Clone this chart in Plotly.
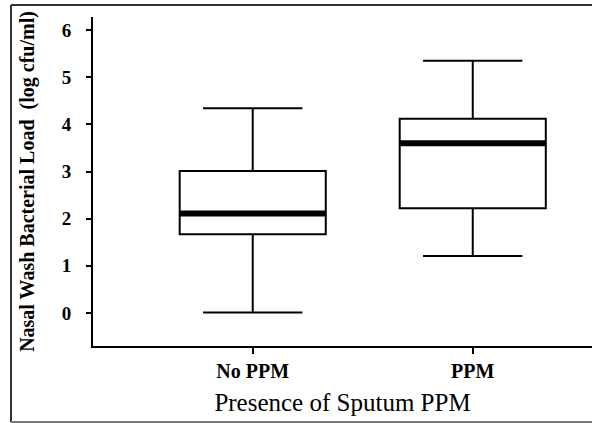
import plotly.graph_objects as go

categories = ["No PPM", "PPM"]
positions = [0, 1]
q1 = [1.67, 2.22]
median = [2.11, 3.60]
q3 = [3.01, 4.12]
lowerfence = [0.01, 1.21]
upperfence = [4.34, 5.35]
y_ticks = [0, 1, 2, 3, 4, 5, 6]

W, H = 592, 423
L, R, T, B = 93, 0, 17, 77
box_w = 0.664

fig = go.Figure()
for i, cat in enumerate(categories):
    fig.add_trace(go.Box(
        x=[positions[i]], q1=[q1[i]], median=[median[i]], q3=[q3[i]],
        lowerfence=[lowerfence[i]], upperfence=[upperfence[i]],
        width=box_w, whiskerwidth=0.68, boxpoints=False,
        fillcolor="white", line=dict(color="black", width=2),
        name=cat, showlegend=False, hoverinfo="skip",
    ))
    fig.add_trace(go.Scatter(
        x=[positions[i] - box_w / 2, positions[i] + box_w / 2],
        y=[median[i], median[i]], mode="lines",
        line=dict(color="black", width=6), showlegend=False, hoverinfo="skip",
    ))

pw = W - L - R
ph = H - T - B
def px_x(p):
    return (p - L) / pw
def px_y(p):
    return (H - B - p) / ph

frame = dict(color="#333333", width=2)
fig.add_shape(type="line", xref="paper", yref="paper",
              x0=px_x(11), x1=px_x(592), y0=px_y(5), y1=px_y(5), line=frame)
fig.add_shape(type="line", xref="paper", yref="paper",
              x0=px_x(11), x1=px_x(11), y0=px_y(5), y1=px_y(422), line=frame)
fig.add_shape(type="line", xref="paper", yref="paper",
              x0=px_x(11), x1=px_x(592), y0=px_y(422), y1=px_y(422),
              line=dict(color="#777777", width=2))

fig.update_layout(
    width=W, height=H,
    margin=dict(l=L, r=R, t=T, b=B),
    paper_bgcolor="white", plot_bgcolor="white",
    font=dict(family="Liberation Serif", color="black"),
    xaxis=dict(
        range=[-0.726, 1.542], tickmode="array", tickvals=positions,
        ticktext=["<b>%s</b>" % c for c in categories],
        showline=True, linecolor="black", linewidth=2,
        ticks="outside", ticklen=6, tickwidth=2, tickcolor="black",
        showgrid=False, zeroline=False,
        tickfont=dict(size=20, family="Liberation Serif"),
        title=dict(text="Presence of Sputum PPM", standoff=12,
                   font=dict(size=25, family="Liberation Serif")),
    ),
    yaxis=dict(
        range=[-0.70, 6.276], tickmode="array", tickvals=y_ticks,
        ticktext=["<b>%d</b>" % v for v in y_ticks],
        showline=True, linecolor="black", linewidth=2,
        ticks="outside", ticklen=5, tickwidth=2, tickcolor="black",
        showgrid=False, zeroline=False,
        tickfont=dict(size=19, family="Liberation Serif"),
        ticklabelstandoff=11,
        title=dict(text="<b>Nasal Wash Bacterial Load  (log cfu/ml)</b>", standoff=22,
                   font=dict(size=20, family="Liberation Serif")),
    ),
)

fig.write_html("out.html")
